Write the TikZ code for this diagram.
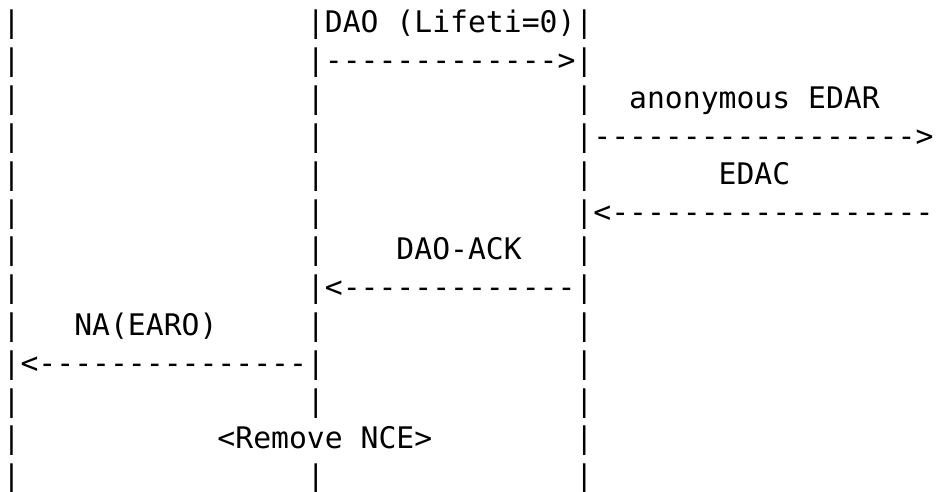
\documentclass[tikz,border=0pt]{standalone}
\usepackage{fontspec}
\setmonofont{DejaVu Sans Mono}
\newlength\cwid
\newcommand\asciifont{\ttfamily\fontsize{29.73pt}{37.8pt}\selectfont\settowidth{\cwid}{0}}
\newcommand\gap[1]{\hspace*{#1\cwid}}
\begin{document}
\begin{tikzpicture}[x=1pt,y=-1pt,
  row/.style={anchor=base west, inner sep=0pt, outer sep=0pt, font=\asciifont, text=black}]
\useasboundingbox (0,0) rectangle (944,492);
\def\lx{2.7}
\node[row] (r1)  at (\lx, 33.0) {|\gap{16}|DAO (Lifeti=0)|};
\node[row] (r2)  at (\lx, 70.8) {|\gap{16}|------------->|};
\node[row] (r3)  at (\lx,108.6) {|\gap{16}|\gap{14}|\gap{2}anonymous EDAR};
\node[row] (r4)  at (\lx,146.4) {|\gap{16}|\gap{14}|------------------>};
\node[row] (r5)  at (\lx,184.2) {|\gap{16}|\gap{14}|\gap{7}EDAC};
\node[row] (r6)  at (\lx,222.0) {|\gap{16}|\gap{14}|<------------------};
\node[row] (r7)  at (\lx,259.8) {|\gap{16}|\gap{4}DAO-ACK\gap{3}|};
\node[row] (r8)  at (\lx,297.6) {|\gap{16}|<-------------|};
\node[row] (r9)  at (\lx,335.4) {|\gap{3}NA(EARO)\gap{5}|\gap{14}|};
\node[row] (r10) at (\lx,373.2) {|<---------------|\gap{14}|};
\node[row] (r11) at (\lx,411.0) {|\gap{16}|\gap{14}|};
\node[row] (r12) at (\lx,448.8) {|\gap{11}<Remove NCE>\gap{8}|};
\node[row] (r13) at (\lx,486.6) {|\gap{16}|\gap{14}|};
\end{tikzpicture}
\end{document}
